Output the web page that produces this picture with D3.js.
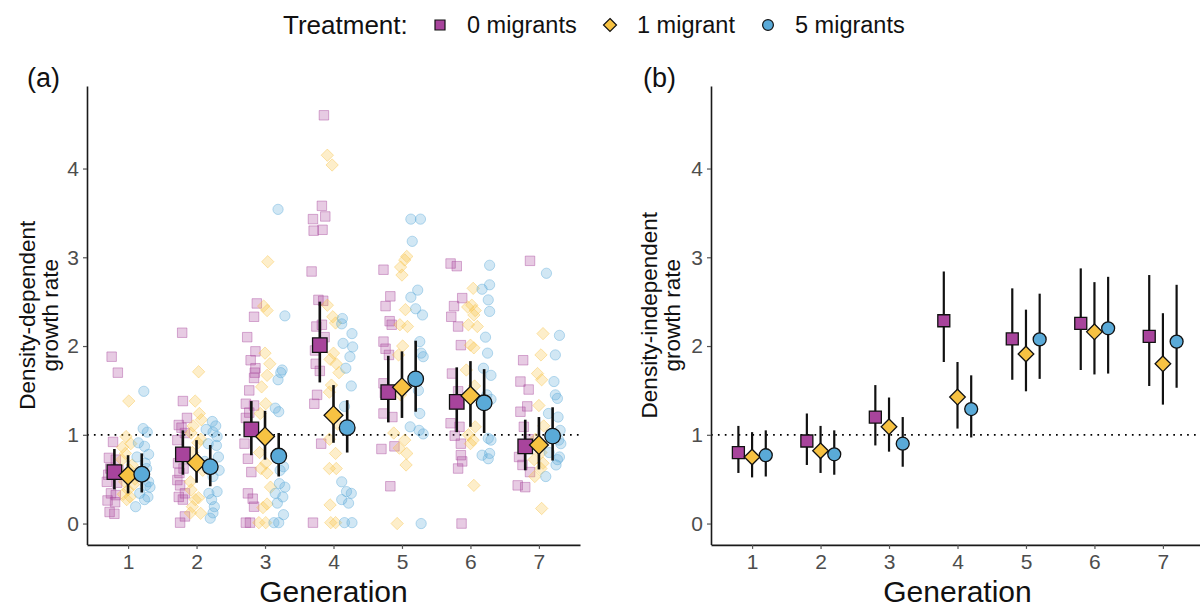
<!DOCTYPE html>
<html>
<head>
<meta charset="utf-8">
<script src="https://cdn.jsdelivr.net/npm/d3@7"></script>
<style>
  html, body { margin: 0; padding: 0; background: #fff; }
  svg { display: block; font-family: "Liberation Sans", Arial, Helvetica, sans-serif; }
</style>
</head>
<body>
<svg id="chart" width="1200" height="608"></svg>
<script>
// Generations and treatments
const generations = [1, 2, 3, 4, 5, 6, 7];
const treatments = ["0 migrants", "1 migrant", "5 migrants"];
const yTicks = [0, 1, 2, 3, 4];

// Density-dependent growth rate: estimate and interval, per treatment
const ddMean0 = [0.58, 0.78, 1.06, 2.01, 1.48, 1.37, 0.87];
const ddLow0  = [0.385, 0.55, 0.77, 1.59, 1.14, 1.03, 0.60];
const ddHigh0 = [0.84, 1.05, 1.38, 2.50, 1.89, 1.76, 1.17];
const ddMean1 = [0.54, 0.685, 0.98, 1.22, 1.535, 1.44, 0.885];
const ddLow1  = [0.34, 0.46, 0.72, 0.91, 1.19, 1.09, 0.61];
const ddHigh1 = [0.77, 0.94, 1.27, 1.56, 1.94, 1.83, 1.20];
const ddMean5 = [0.555, 0.64, 0.76, 1.08, 1.63, 1.36, 0.985];
const ddLow5  = [0.35, 0.42, 0.53, 0.80, 1.26, 1.02, 0.71];
const ddHigh5 = [0.79, 0.885, 1.02, 1.39, 2.06, 1.74, 1.31];

// Density-independent growth rate: estimate and interval, per treatment
const diMean0 = [0.80, 0.93, 1.20, 2.285, 2.08, 2.255, 2.11];
const diLow0  = [0.57, 0.66, 0.88, 1.82, 1.62, 1.73, 1.55];
const diHigh0 = [1.10, 1.24, 1.56, 2.84, 2.65, 2.875, 2.80];
const diMean1 = [0.75, 0.82, 1.09, 1.425, 1.91, 2.16, 1.80];
const diLow1  = [0.52, 0.57, 0.81, 1.07, 1.49, 1.68, 1.34];
const diHigh1 = [1.03, 1.10, 1.42, 1.82, 2.41, 2.72, 2.37];
const diMean5 = [0.77, 0.78, 0.90, 1.29, 2.075, 2.20, 2.05];
const diLow5  = [0.53, 0.55, 0.64, 0.97, 1.63, 1.69, 1.53];
const diHigh5 = [1.05, 1.05, 1.20, 1.67, 2.59, 2.78, 2.69];

// Per-replicate density-dependent rates: [value, jitter in generation units], one list per generation
const rawMig0 = [
  [[1.88,-0.04],[1.70,0.05],[0.92,-0.02],[0.74,-0.08],[0.72,0.02],[0.62,-0.06],[0.47,-0.11],[0.46,0.04],[0.34,-0.05],[0.32,0.02],[0.26,-0.10],[0.24,0.01],[0.13,-0.07],[0.11,0.00],[0.55,-0.09],[0.60,0.06]],
  [[2.15,-0.01],[1.38,0.00],[1.19,0.06],[1.11,-0.06],[1.08,-0.02],[1.02,0.03],[0.94,-0.08],[0.68,-0.07],[0.62,0.01],[0.57,-0.05],[0.49,-0.08],[0.43,-0.04],[0.34,0.03],[0.30,-0.06],[0.27,0.00],[0.08,0.03],[0.01,-0.04]],
  [[2.48,0.08],[2.33,0.04],[2.10,-0.06],[1.94,0.06],[1.84,-0.01],[1.75,0.06],[1.70,0.05],[1.64,0.04],[1.50,-0.03],[1.35,-0.08],[1.33,0.04],[1.25,-0.03],[1.19,-0.08],[0.90,-0.10],[0.73,-0.05],[0.58,0.00],[0.34,-0.05],[0.28,0.02],[0.19,0.04],[0.01,-0.08],[0.01,-0.02]],
  [[4.60,0.06],[3.58,0.03],[3.46,0.08],[3.43,-0.10],[3.31,0.04],[3.30,-0.09],[2.84,-0.12],[2.52,-0.02],[2.51,0.05],[2.24,0.03],[2.22,-0.05],[2.10,0.07],[1.95,-0.07],[1.80,-0.06],[1.72,0.00],[1.45,-0.04],[1.35,-0.08],[0.90,0.02],[0.01,-0.10]],
  [[2.86,-0.07],[2.56,0.03],[2.45,-0.04],[2.28,0.02],[2.24,0.05],[2.05,-0.07],[1.97,-0.04],[1.90,0.01],[1.58,-0.07],[1.47,-0.05],[1.24,-0.07],[1.20,0.06],[0.87,0.09],[0.84,-0.10],[0.42,0.03]],
  [[2.93,-0.09],[2.90,0.00],[2.54,0.08],[2.45,-0.04],[2.33,-0.08],[2.22,0.02],[2.01,0.06],[1.69,-0.07],[1.49,0.02],[1.13,-0.09],[1.09,0.04],[0.99,-0.03],[0.90,0.06],[0.77,0.06],[0.70,0.08],[0.62,0.02],[0.00,0.07]],
  [[2.96,0.07],[1.84,-0.03],[1.60,-0.07],[1.51,0.05],[1.32,0.03],[1.26,-0.07],[1.09,-0.02],[0.95,0.05],[0.75,-0.09],[0.66,-0.04],[0.58,0.07],[0.43,-0.11],[0.41,0.00]]
];
const rawMig1 = [
  [[1.38,0.01],[0.98,-0.03],[0.90,0.04],[0.86,-0.08],[0.79,-0.04],[0.72,-0.09],[0.66,0.06],[0.60,0.03],[0.47,-0.05],[0.44,0.08],[0.38,0.00],[0.33,-0.07],[0.30,0.03],[0.27,-0.02],[0.50,0.10],[0.56,-0.10]],
  [[1.71,0.03],[1.38,-0.02],[1.24,0.04],[1.17,0.07],[1.10,-0.05],[1.02,-0.08],[0.95,0.06],[0.91,0.02],[0.80,-0.06],[0.60,0.09],[0.47,-0.09],[0.38,-0.08],[0.29,0.03],[0.27,-0.02],[0.19,-0.06],[0.12,-0.09],[0.115,0.06]],
  [[2.95,0.04],[2.45,-0.02],[2.40,0.03],[1.92,0.00],[1.80,0.07],[1.67,0.03],[1.54,-0.05],[1.35,0.01],[1.24,-0.07],[0.80,-0.08],[0.68,0.01],[0.62,-0.06],[0.57,0.03],[0.41,0.08],[0.22,0.03],[0.18,-0.03],[0.01,-0.09],[0.01,0.01]],
  [[4.15,-0.09],[4.04,-0.02],[2.46,-0.09],[2.33,-0.01],[2.26,0.03],[1.92,0.00],[1.85,-0.05],[1.80,0.04],[1.70,0.08],[1.56,-0.03],[1.48,-0.06],[1.12,0.06],[0.95,-0.06],[0.79,0.03],[0.62,-0.06],[0.62,0.04],[0.21,-0.05],[0.01,-0.04],[0.01,0.03]],
  [[3.01,0.07],[2.97,0.04],[2.89,-0.02],[2.80,0.00],[2.41,0.05],[2.24,-0.03],[2.22,0.08],[2.00,0.01],[1.90,-0.05],[1.45,-0.02],[1.02,-0.12],[0.94,0.04],[0.85,-0.04],[0.79,0.07],[0.66,0.06],[0.00,-0.07]],
  [[2.65,0.04],[2.46,0.02],[2.44,-0.04],[2.40,0.07],[2.35,0.05],[2.24,-0.03],[2.22,0.10],[2.01,0.00],[1.98,0.05],[1.73,-0.06],[1.55,0.06],[1.09,0.07],[1.00,-0.03],[0.94,0.04],[0.90,0.00],[0.43,0.05]],
  [[2.14,0.06],[1.90,0.03],[1.69,-0.02],[1.62,0.04],[1.33,0.00],[1.10,0.07],[0.95,-0.05],[0.80,0.03],[0.72,-0.07],[0.68,0.06],[0.62,0.03],[0.53,-0.06],[0.17,0.04]]
];
const rawMig5 = [
  [[1.49,0.03],[1.07,0.02],[1.03,0.08],[0.91,-0.05],[0.87,0.04],[0.78,0.10],[0.75,-0.07],[0.68,0.05],[0.62,0.07],[0.47,0.10],[0.43,0.06],[0.41,0.12],[0.34,-0.03],[0.30,0.09],[0.27,0.04],[0.19,-0.09]],
  [[1.15,0.03],[1.10,0.08],[1.06,-0.06],[1.03,0.04],[0.98,0.10],[0.90,-0.03],[0.88,0.09],[0.75,0.12],[0.70,-0.08],[0.60,0.13],[0.53,0.04],[0.36,0.10],[0.34,-0.02],[0.27,0.02],[0.19,0.06],[0.12,0.04],[0.06,0.00]],
  [[3.54,-0.01],[2.34,0.09],[1.73,0.05],[1.70,0.03],[1.62,-0.01],[1.30,-0.05],[1.26,0.00],[0.75,0.00],[0.64,0.07],[0.60,0.02],[0.45,0.01],[0.41,0.09],[0.34,-0.05],[0.30,0.06],[0.23,-0.02],[0.10,0.07],[0.01,-0.07],[0.01,0.00]],
  [[2.31,-0.07],[2.25,-0.08],[2.14,0.07],[2.03,-0.06],[1.99,0.08],[1.88,0.04],[1.75,-0.02],[1.55,0.06],[1.32,-0.04],[0.47,-0.08],[0.36,-0.01],[0.34,0.06],[0.27,-0.08],[0.23,0.02],[0.01,-0.04],[0.01,0.07]],
  [[3.43,-0.07],[3.43,0.07],[3.18,-0.05],[2.63,0.03],[2.55,-0.07],[2.42,0.00],[2.35,0.10],[2.05,0.06],[1.92,0.08],[1.88,0.11],[1.50,0.04],[1.24,0.06],[1.09,-0.08],[1.05,0.05],[1.01,0.11],[0.00,0.08]],
  [[2.91,0.08],[2.69,0.08],[2.64,-0.03],[2.52,0.06],[2.39,0.08],[2.10,0.02],[1.92,0.05],[1.75,-0.01],[1.67,0.10],[1.45,0.04],[1.40,0.10],[0.96,0.06],[0.94,0.10],[0.79,0.08],[0.77,-0.03],[0.73,0.06]],
  [[2.82,-0.09],[2.12,0.10],[1.90,0.04],[1.60,0.02],[1.45,0.04],[1.41,0.07],[1.24,-0.06],[1.20,0.08],[1.05,0.11],[0.94,0.09],[0.90,0.12],[0.80,-0.05],[0.75,0.10],[0.72,0.07],[0.66,0.05],[0.53,-0.10]]
];

// Styling per treatment
const colors = ["#a8449c", "#f7c242", "#5aaad8"];
const shapes = ["square", "diamond", "circle"];
const dodge = [-0.2, 0, 0.2];

const svg = d3.select("#chart");

// Shape path generator centered on 0,0; s is the nominal width
function shapePath(shape, s) {
  const h = s / 2;
  if (shape === "square") return `M${-h},${-h}H${h}V${h}H${-h}Z`;
  if (shape === "diamond") { const d = h * 1.3; return `M0,${-d}L${d},0L0,${d}L${-d},0Z`; }
  const p = d3.path();
  p.arc(0, 0, h * 1.08, 0, 2 * Math.PI);
  p.closePath();
  return p.toString();
}

const y = d3.scaleLinear().domain([-0.235, 4.93]).range([544.4, 86]);
const panelMid = (y(-0.235) + y(4.93)) / 2;

function drawPanel(cfg) {
  const x = d3.scaleLinear().domain([0.4, 7.6]).range([cfg.x0, cfg.x0 + 493]);
  const g = svg.append("g");

  // reference line at growth rate 1
  g.append("line")
    .attr("x1", cfg.x0).attr("x2", cfg.x0 + 493)
    .attr("y1", y(1)).attr("y2", y(1))
    .attr("stroke", "#000").attr("stroke-width", 1.7)
    .attr("stroke-dasharray", "1.7,5.2");

  // replicate points
  if (cfg.raw) {
    cfg.raw.forEach((series, ti) => {
      series.forEach((pts, gi) => {
        g.selectAll(null).data(pts).enter().append("path")
          .attr("d", shapePath(shapes[ti], 9.5))
          .attr("transform", d => `translate(${x(generations[gi] + dodge[ti] + d[1])},${y(d[0])})`)
          .attr("fill", colors[ti]).attr("fill-opacity", 0.28)
          .attr("stroke", colors[ti]).attr("stroke-opacity", 0.42)
          .attr("stroke-width", 1);
      });
    });
  }

  // intervals
  cfg.summary.forEach((s, ti) => {
    g.selectAll(null).data(generations).enter().append("line")
      .attr("x1", (d) => x(d + dodge[ti])).attr("x2", (d) => x(d + dodge[ti]))
      .attr("y1", (d, i) => y(s.low[i])).attr("y2", (d, i) => y(s.high[i]))
      .attr("stroke", "#111").attr("stroke-width", cfg.lw);
  });
  // estimates
  cfg.summary.forEach((s, ti) => {
    g.selectAll(null).data(generations).enter().append("path")
      .attr("d", shapePath(shapes[ti], cfg.ms))
      .attr("transform", (d, i) => `translate(${x(d + dodge[ti])},${y(s.mean[i])})`)
      .attr("fill", colors[ti]).attr("stroke", "#111").attr("stroke-width", 1.3);
  });

  // axes
  const xAxis = g.append("g").attr("transform", `translate(0,${y(-0.235) + 0.5})`)
    .call(d3.axisBottom(x).tickValues(generations).tickFormat(d3.format("d")).tickSize(4).tickSizeOuter(0).tickPadding(5));
  const yAxis = g.append("g").attr("transform", `translate(${cfg.x0},0)`)
    .call(d3.axisLeft(y).tickValues(yTicks).tickFormat(d3.format("d")).tickSize(4).tickSizeOuter(0).tickPadding(4));
  [xAxis, yAxis].forEach(a => {
    a.select(".domain").attr("stroke", "#1a1a1a").attr("stroke-width", 1.6);
    a.selectAll(".tick line").attr("stroke", "#555").attr("stroke-width", 1.2);
    a.selectAll(".tick text").attr("fill", "#4d4d4d").style("font-size", "21px")
      .style("font-family", "'Liberation Sans', Arial, sans-serif");
  });

  // titles
  g.append("text").attr("x", cfg.x0 + 246.5).attr("y", 602)
    .attr("text-anchor", "middle").attr("font-size", 30).attr("fill", "#111")
    .text("Generation");
  const yt = g.append("text").attr("transform", `translate(${cfg.ytx},${panelMid}) rotate(-90)`)
    .attr("text-anchor", "middle").attr("font-size", 22.5).attr("fill", "#111");
  yt.append("tspan").attr("x", 0).attr("dy", 0).text(cfg.ytitle);
  yt.append("tspan").attr("x", 0).attr("dy", 23).text("growth rate");
  g.append("text").attr("x", cfg.lx).attr("y", 87)
    .attr("font-size", 27).attr("fill", "#111").text(cfg.label);
}

drawPanel({
  x0: 87, lw: 2.6, ms: 14.5, ytx: 35, lx: 27,
  ytitle: "Density-dependent", label: "(a)",
  raw: [rawMig0, rawMig1, rawMig5],
  summary: [
    { mean: ddMean0, low: ddLow0, high: ddHigh0 },
    { mean: ddMean1, low: ddLow1, high: ddHigh1 },
    { mean: ddMean5, low: ddLow5, high: ddHigh5 }
  ]
});
drawPanel({
  x0: 711, lw: 2.2, ms: 12, ytx: 657, lx: 643,
  ytitle: "Density-independent", label: "(b)",
  raw: null,
  summary: [
    { mean: diMean0, low: diLow0, high: diHigh0 },
    { mean: diMean1, low: diLow1, high: diHigh1 },
    { mean: diMean5, low: diLow5, high: diHigh5 }
  ]
});

// legend
const legend = svg.append("g");
legend.append("text").attr("x", 283).attr("y", 34).attr("font-size", 26).attr("fill", "#111").text("Treatment:");
const legendX = [440, 610, 768];
treatments.forEach((t, i) => {
  legend.append("path").attr("d", shapePath(shapes[i], 10))
    .attr("transform", `translate(${legendX[i]},${25})`)
    .attr("fill", colors[i]).attr("stroke", "#111").attr("stroke-width", 1.2);
  legend.append("text").attr("x", legendX[i] + 27).attr("y", 33)
    .attr("font-size", 23.5).attr("fill", "#111").text(t);
});
</script>
</body>
</html>
